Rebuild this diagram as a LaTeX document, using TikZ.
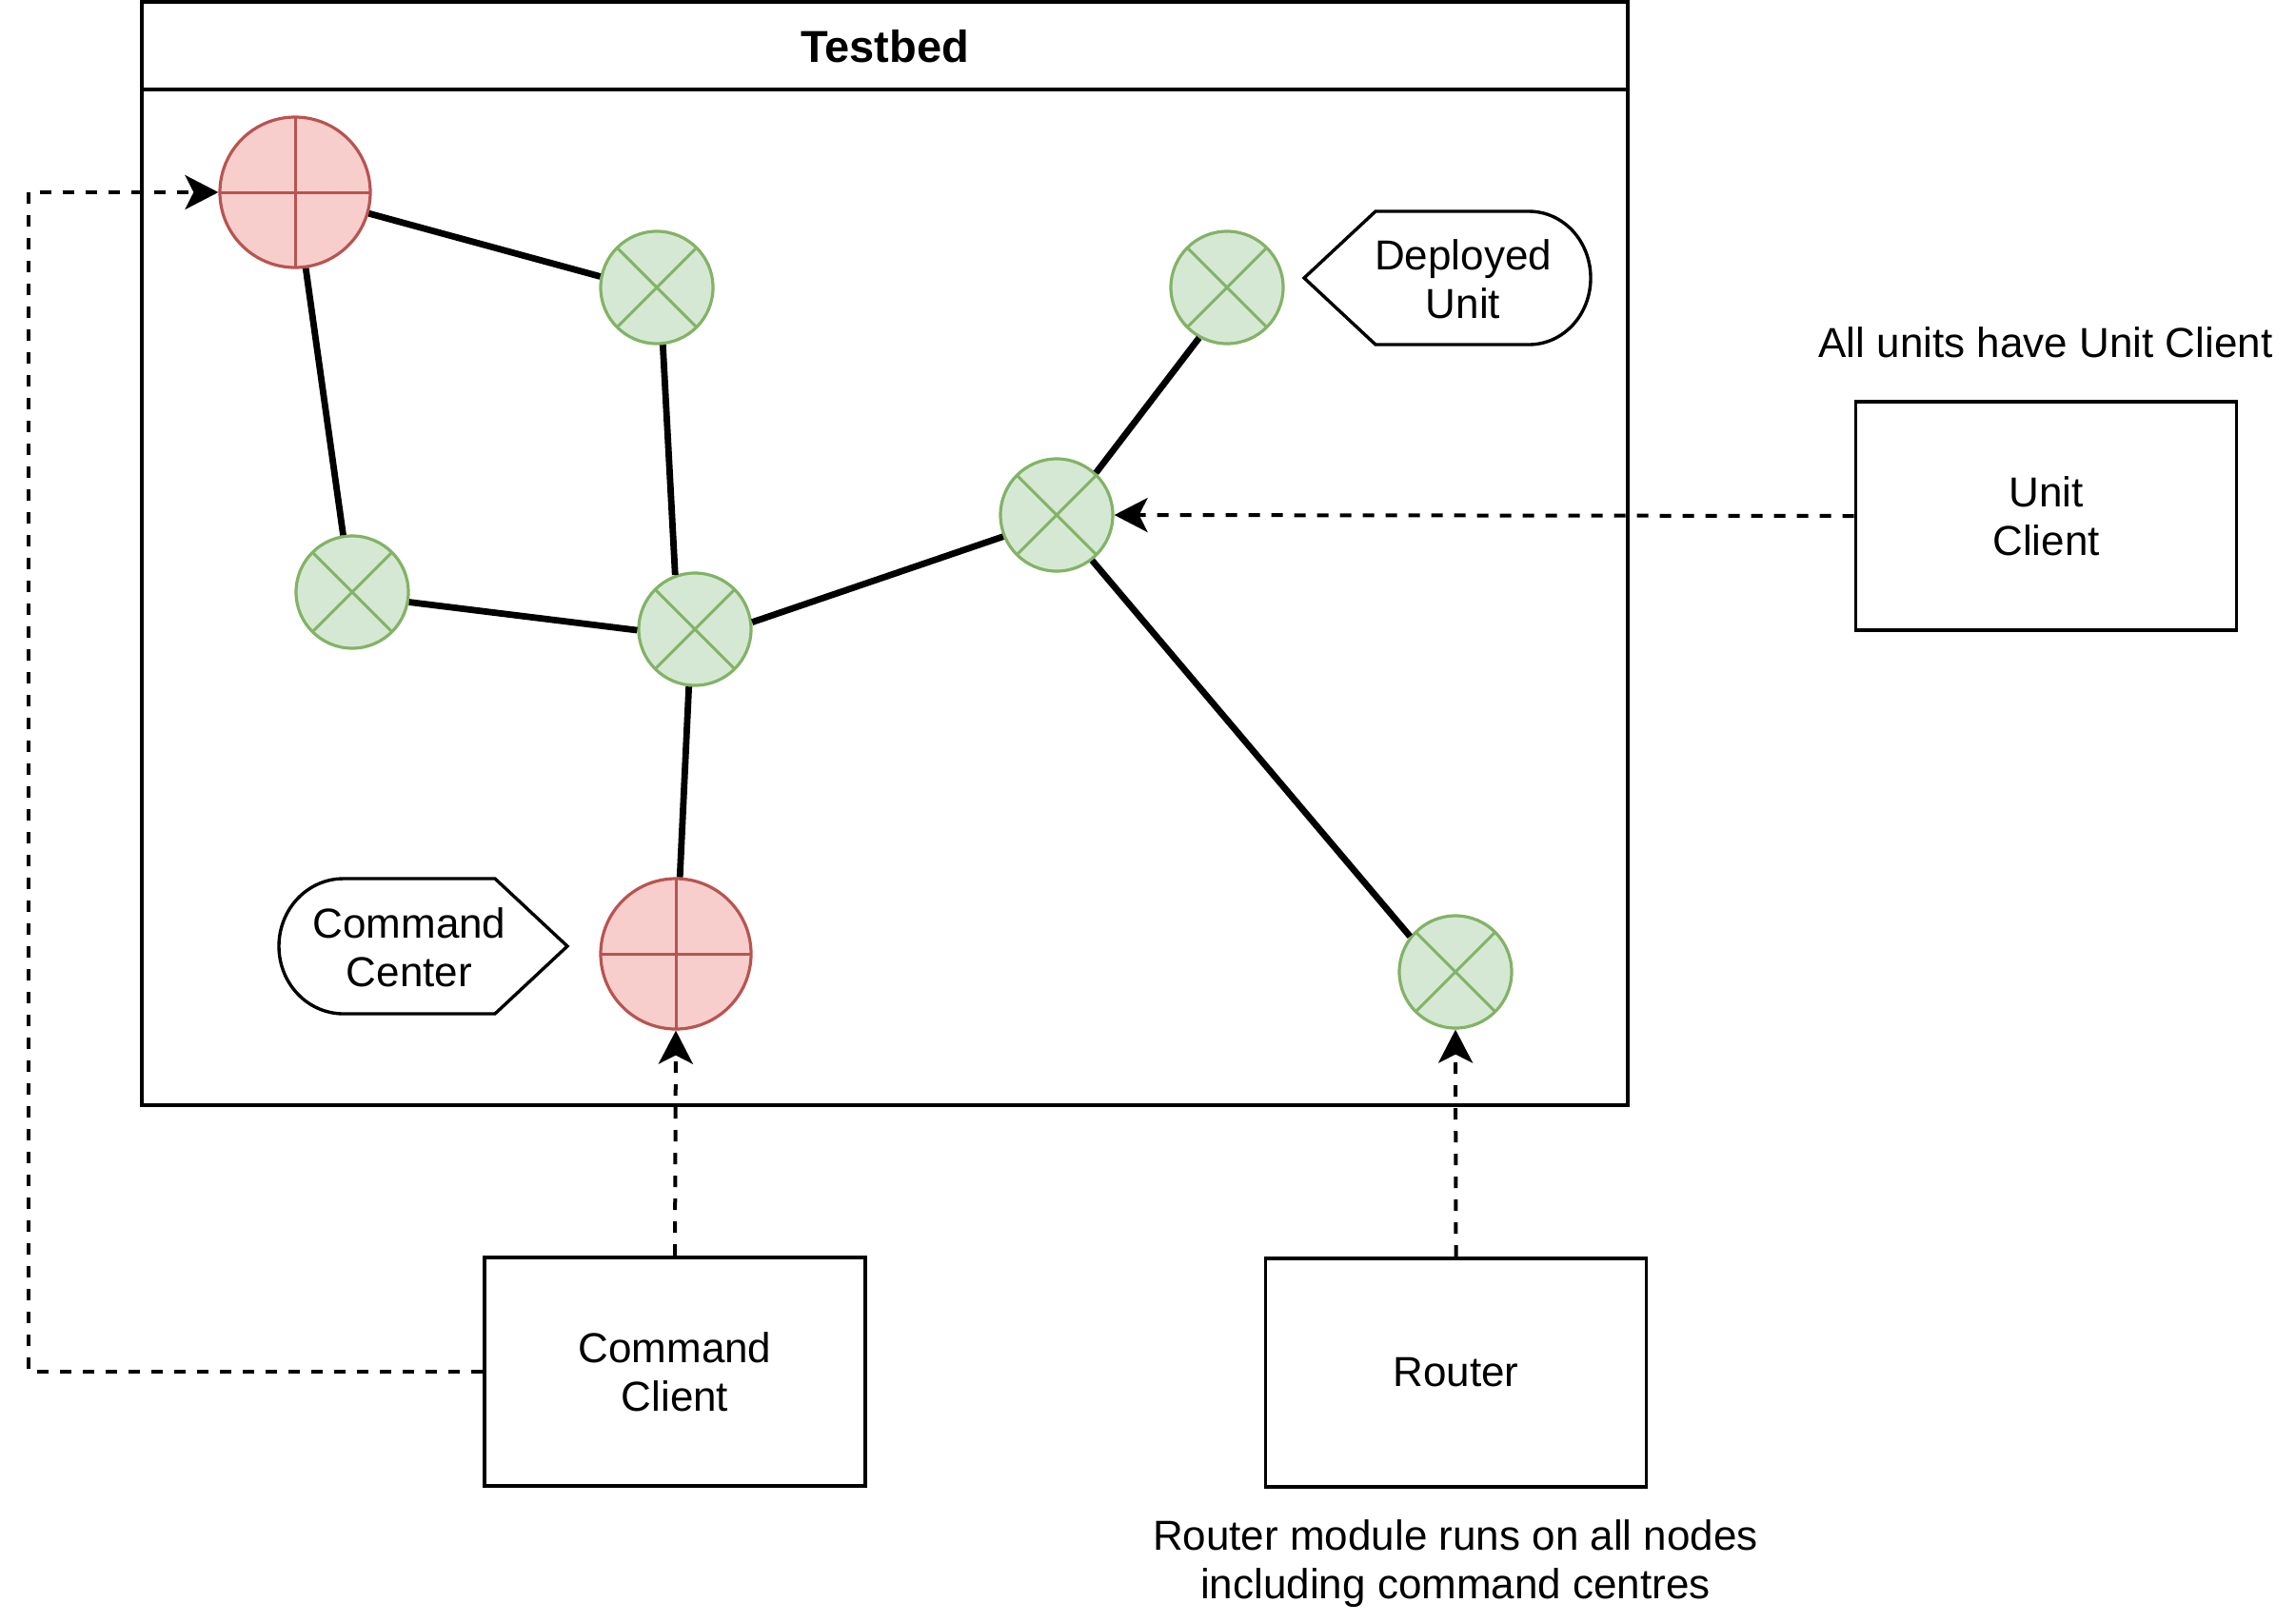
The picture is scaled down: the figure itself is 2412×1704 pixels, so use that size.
\documentclass[tikz,border=0pt]{standalone}
\usepackage{fontspec}
\setmainfont{Liberation Sans}
\usetikzlibrary{arrows.meta}
\definecolor{redfill}{HTML}{F8CECC}
\definecolor{redline}{HTML}{B85450}
\definecolor{greenfill}{HTML}{D5E8D4}
\definecolor{greenline}{HTML}{82B366}
\tikzset{
  txt/.style={font=\fontsize{22pt}{25.5pt}\selectfont, align=center, inner sep=0pt},
  boxnode/.style={draw, line width=1.9pt, minimum width=200pt, minimum height=120pt, txt},
  rednode/.style={circle, draw=redline, fill=redfill, line width=1.6pt, minimum size=79pt, inner sep=0pt,
    path picture={\draw[redline, line width=1.5pt]
      (path picture bounding box.north) -- (path picture bounding box.south)
      (path picture bounding box.west) -- (path picture bounding box.east);}},
  greennode/.style={circle, draw=greenline, fill=greenfill, line width=1.6pt, minimum size=59pt, inner sep=0pt,
    path picture={\draw[greenline, line width=1.5pt]
      (path picture bounding box.north west) -- (path picture bounding box.south east)
      (path picture bounding box.north east) -- (path picture bounding box.south west);}},
  link/.style={line width=3.4pt},
  dashlink/.style={line width=2pt, dash pattern=on 6pt off 6pt},
  arr/.style={-{Stealth[length=17.5pt, width=18pt, inset=4.5pt]}},
  callout/.style={line width=1.7pt, line join=miter}
}
\begin{document}
\begin{tikzpicture}[x=0.5pt, y=-0.5pt]
\useasboundingbox (0,0) rectangle (2412,1704);

% Testbed container
\draw[line width=2pt] (149,2) rectangle (1710,1161);
\draw[line width=2pt] (149,94) -- (1710,94);
\node[txt, font=\fontsize{23.5pt}{27pt}\selectfont\bfseries] (tbtitle) at (929.5,49) {Testbed};

% network nodes
\node[rednode] (red1) at (310,202) {};
\node[greennode] (gA) at (690,302) {};
\node[greennode] (gB) at (370,622) {};
\node[greennode] (gC) at (730,661) {};
\node[greennode] (gD) at (1289,302) {};
\node[greennode] (gE) at (1110,541) {};
\node[greennode] (gF) at (1529,1021) {};
\node[rednode] (red2) at (710,1002) {};

% links
\draw[link] (red1.-16.5) -- (gA.169.6);
\draw[link] (red1.-82.6) -- (gB.99.7);
\draw[link] (gA.-84.1) -- (gC.110.4);
\draw[link] (gB.-10.1) -- (gC.181);
\draw[link] (gC.7.8) -- (gE.-158.2);
\draw[link] (gE.47.2) -- (gD.-119.5);
\draw[link] (gE.-52.5) -- (gF.142.7);
\draw[link] (gC.-96.3) -- (red2.87.2);

% Deployed Unit callout
\draw[callout] (1370,292) -- (1445,222) -- (1606,222)
  .. controls (1642,222) and (1671,253) .. (1671,292)
  .. controls (1671,331) and (1642,362) .. (1606,362)
  -- (1445,362) -- cycle;
\node[txt] (dutext) at (1537,293) {Deployed\\Unit};

% Command Center callout
\draw[callout] (596,994) -- (520,923) -- (361,923)
  .. controls (323,923) and (293,955) .. (293,994)
  .. controls (293,1033) and (323,1065) .. (361,1065)
  -- (520,1065) -- cycle;
\node[txt] (cctext) at (430,995) {Command\\Center};

% client boxes
\node[boxnode] (uclient) at (2149.5,542) {Unit\\Client};
\node[boxnode] (cclient) at (709,1441) {Command\\Client};
\node[boxnode] (router) at (1529.5,1442) {Router};

% notes
\node[txt] (unote) at (2149,360) {All units have Unit Client};
\node[txt] (rnote) at (1529,1643) {Router module runs on all nodes\\including command centres};

% dashed connectors
\coordinate (k1) at (30,1441);
\draw[dashlink, arr] (uclient.west) -- (gE.east);
\draw[dashlink, arr] (cclient.north) -- (red2.south);
\draw[dashlink, arr] (router.north) -- (gF.south);
\draw[dashlink, arr] (cclient.west) -- (k1) |- (red1.west);
\end{tikzpicture}
\end{document}
